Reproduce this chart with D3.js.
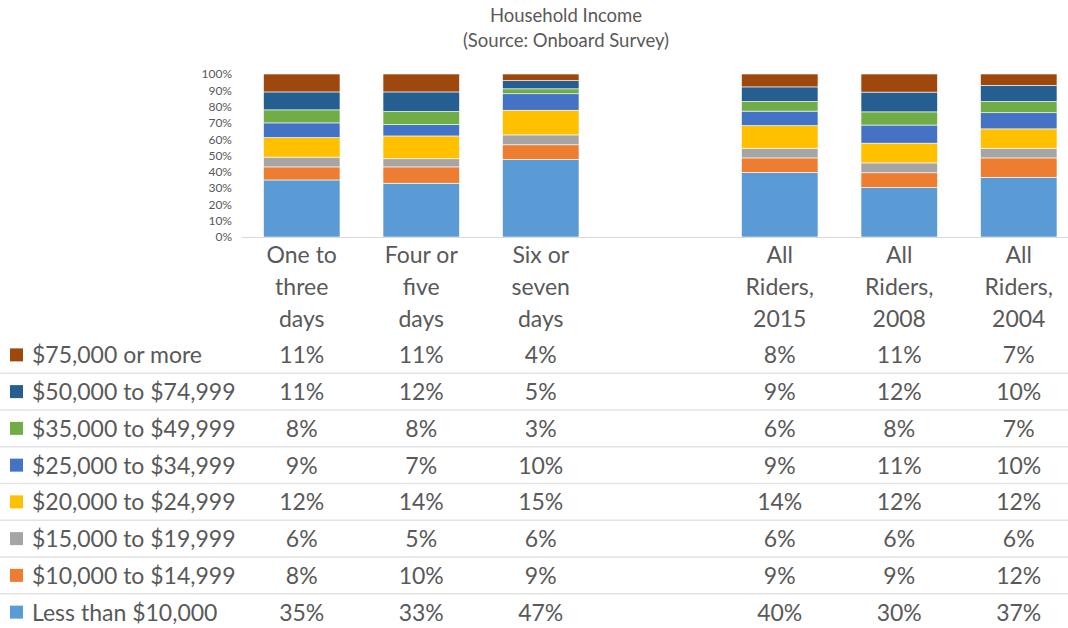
<!DOCTYPE html>
<html>
<head>
<meta charset="utf-8">
<script src="https://cdn.jsdelivr.net/npm/d3@7"></script>
<style>
  body { margin: 0; background: #fff; }
  svg { display: block; font-family: Lato, "Open Sans", sans-serif; }
</style>
</head>
<body>
<svg width="1068" height="628"></svg>
<script>
// categories (label lines), with a blank spacer column between groups
var categories = ["c1", "c2", "c3", "gap", "c4", "c5", "c6"];
var categoryLines = {
  c1: ["One to", "three", "days"],
  c2: ["Four or", "five", "days"],
  c3: ["Six or", "seven", "days"],
  c4: ["All", "Riders,", "2015"],
  c5: ["All", "Riders,", "2008"],
  c6: ["All", "Riders,", "2004"]
};
var barCats = ["c1", "c2", "c3", "c4", "c5", "c6"];

// series, bottom of stack first
var seriesNames = ["Less than $10,000", "$10,000 to $14,999", "$15,000 to $19,999",
  "$20,000 to $24,999", "$25,000 to $34,999", "$35,000 to $49,999",
  "$50,000 to $74,999", "$75,000 or more"];
var lessThan10k = [35, 33, 47, 40, 30, 37];
var from10to15k = [8, 10, 9, 9, 9, 12];
var from15to20k = [6, 5, 6, 6, 6, 6];
var from20to25k = [12, 14, 15, 14, 12, 12];
var from25to35k = [9, 7, 10, 9, 11, 10];
var from35to50k = [8, 8, 3, 6, 8, 7];
var from50to75k = [11, 12, 5, 9, 12, 10];
var over75k = [11, 11, 4, 8, 11, 7];
var seriesValues = [lessThan10k, from10to15k, from15to20k, from20to25k,
  from25to35k, from35to50k, from50to75k, over75k];
var colors = ["#5B9BD5", "#ED7D31", "#A5A5A5", "#FFC000", "#4472C4", "#70AD47", "#255E91", "#9E480E"];
var yTicks = [0, 0.1, 0.2, 0.3, 0.4, 0.5, 0.6, 0.7, 0.8, 0.9, 1];

var svg = d3.select("svg");
var textColor = "#595959";
var bigFont = "23px";

// build table rows for d3.stack
var rows = barCats.map(function(c, i) {
  var r = { cat: c };
  seriesNames.forEach(function(s, k) { r[s] = seriesValues[k][i]; });
  return r;
});
var stack = d3.stack().keys(seriesNames).offset(d3.stackOffsetExpand);
var layers = stack(rows);

var x = d3.scaleBand().domain(categories).range([242, 1078.5]).paddingInner(0.36).paddingOuter(0.18);
var y = d3.scaleLinear().domain([0, 1]).range([237, 74]);

// title
svg.append("text").attr("x", 566).attr("y", 22).attr("text-anchor", "middle")
  .attr("fill", textColor).style("font-size", "18.5px").text("Household Income");
svg.append("text").attr("x", 566).attr("y", 47).attr("text-anchor", "middle")
  .attr("fill", textColor).style("font-size", "18.5px").text("(Source: Onboard Survey)");

// y axis
var yAxis = svg.append("g").attr("transform", "translate(242,0)")
  .call(d3.axisLeft(y).tickValues(yTicks).tickFormat(d3.format(".0%")).tickSize(0).tickPadding(10));
yAxis.select(".domain").remove();
yAxis.selectAll("text").attr("fill", textColor).style("font-size", "12px")
  .style("font-family", "Lato, sans-serif");

// bars
svg.append("g").selectAll("g").data(layers).enter().append("g")
  .attr("fill", function(d, i) { return colors[i]; })
  .selectAll("rect").data(function(d) { return d; }).enter().append("rect")
  .attr("x", function(d) { return x(d.data.cat); })
  .attr("width", x.bandwidth())
  .attr("y", function(d) { return y(d[1]); })
  .attr("height", function(d) { return y(d[0]) - y(d[1]); })
  .attr("stroke", "#fff").attr("stroke-width", 0.6);

// baseline
svg.append("line").attr("x1", 242).attr("x2", 1068).attr("y1", 237.5).attr("y2", 237.5)
  .attr("stroke", "#d9d9d9").attr("stroke-width", 1);

// category labels
var catG = svg.append("g").selectAll("text").data(barCats).enter().append("text")
  .attr("text-anchor", "middle").attr("fill", textColor).style("font-size", bigFont);
catG.selectAll("tspan").data(function(c) { return categoryLines[c].map(function(t) { return { c: c, t: t }; }); })
  .enter().append("tspan")
  .attr("x", function(d) { return x(d.c) + x.bandwidth() / 2; })
  .attr("y", function(d, i) { return 263 + i * 32; })
  .text(function(d) { return d.t; });

// data table, top row = last series
var rowY = d3.scaleBand().domain(seriesNames.slice().reverse()).range([337, 631]);
var rowsG = svg.append("g").selectAll("g").data(seriesNames.slice().reverse()).enter().append("g")
  .attr("transform", function(s) { return "translate(0," + rowY(s) + ")"; });

rowsG.filter(function(s, i) { return i < seriesNames.length - 1; }).append("line")
  .attr("x1", 0).attr("x2", 1068)
  .attr("y1", rowY.bandwidth() - 0.5).attr("y2", rowY.bandwidth() - 0.5)
  .attr("stroke", "#e3e3e3").attr("stroke-width", 1.5);

rowsG.append("rect").attr("x", 10).attr("y", rowY.bandwidth() / 2 - 7)
  .attr("width", 13).attr("height", 13)
  .attr("fill", function(s) { return colors[seriesNames.indexOf(s)]; });

rowsG.append("text").attr("x", 32).attr("y", rowY.bandwidth() / 2 + 8)
  .attr("fill", textColor).style("font-size", bigFont).text(function(s) { return s; });

rowsG.selectAll("text.val").data(function(s) {
    var k = seriesNames.indexOf(s);
    return barCats.map(function(c, i) { return { c: c, v: seriesValues[k][i] }; });
  }).enter().append("text").attr("class", "val")
  .attr("x", function(d) { return x(d.c) + x.bandwidth() / 2; })
  .attr("y", rowY.bandwidth() / 2 + 8)
  .attr("text-anchor", "middle").attr("fill", textColor).style("font-size", bigFont)
  .text(function(d) { return d.v + "%"; });
</script>
</body>
</html>
